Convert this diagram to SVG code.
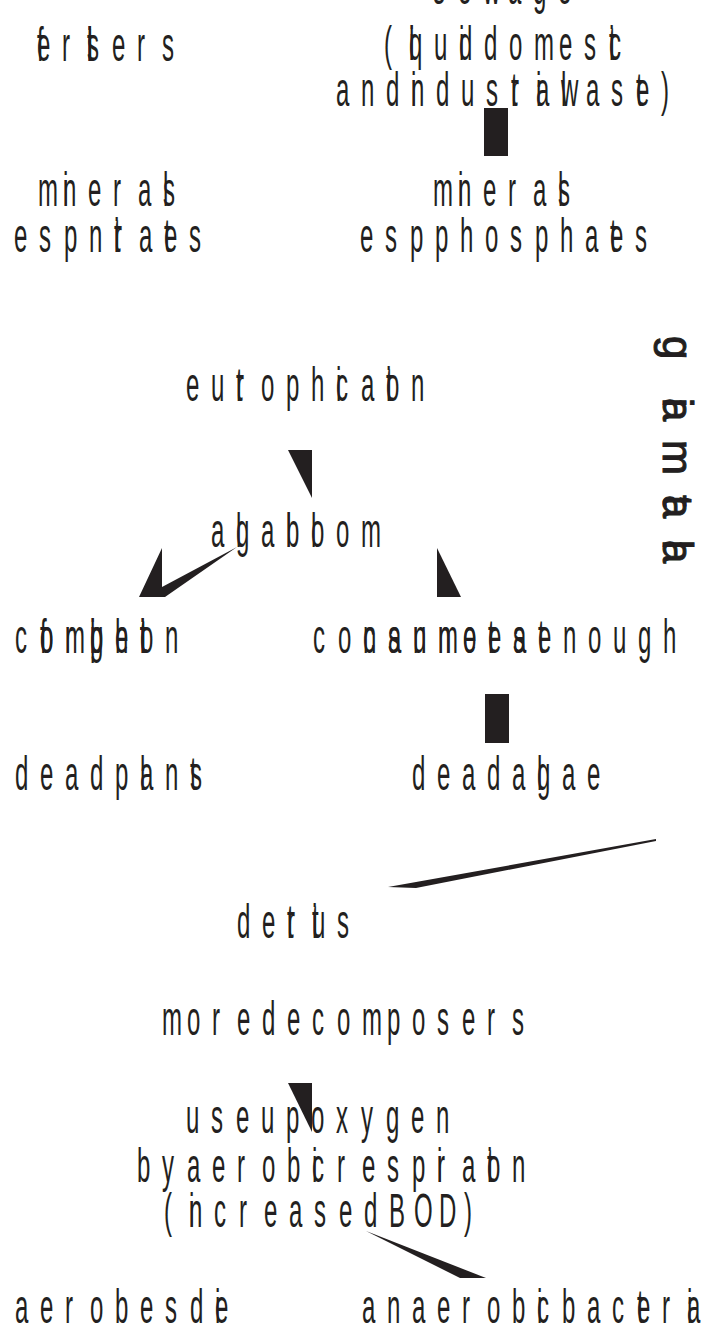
<svg xmlns="http://www.w3.org/2000/svg" width="704" height="1333" viewBox="0 0 704 1333">
<style>
.t{font-family:"Liberation Sans",Arial,sans-serif;font-size:48px;fill:#231f20}
.r{font-family:"Liberation Sans",Arial,sans-serif;font-size:42px;fill:#231f20;stroke:#231f20;stroke-width:1}
.k{fill:#231f20}
</style>
<rect width="704" height="1333" fill="#ffffff"/>
<g id="connectors">
<rect class="k" x="484" y="108" width="24" height="48"/>
<polygon class="k" points="288,450 312,450 312,498"/>
<path class="k" d="M162,548 L162,587 L237,547 L165,597 L139,597 Z"/>
<polygon class="k" points="437,548 437,597 461,597"/>
<rect class="k" x="485" y="694" width="24" height="49"/>
<polygon class="k" points="656,839 388,887 416,888 656,841"/>
<polygon class="k" points="288,1083 312,1083 312,1132"/>
<polygon class="k" points="366,1231 486,1278 460,1278"/>
</g>
<g id="sewage">
<text class="t" transform="matrix(0.5 0 0 1 433 4)" x="0 50 100 150 200 250">sewage</text>
<text class="t" transform="matrix(0.5 0 0 1 384 60)" x="0 50 50 50 100 150 150 200 200 250 300 350 400 450 450 450">(liquid domestic</text>
<text class="t" transform="matrix(0.5 0 0 1 336 106)" x="0 50 100 150 150 150 200 250 300 350 350 400 400 450 450 450 500 550 600 600 650">and industrial waste)</text>
</g>
<g id="fertilisers">
<text class="t" transform="matrix(0.5 0 0 1 37 61)" x="0 0 50 100 100 100 100 100 150 200 250">fertilisers</text>
</g>
<g id="nitrates">
<text class="t" transform="matrix(0.5 0 0 1 38 206)" x="0 50 50 100 150 200 250 250">minerals</text>
<text class="t" transform="matrix(0.5 0 0 1 14 252)" x="0 50 100 150 150 200 200 200 250 300 300 350">esp nitrates</text>
</g>
<g id="phosphates">
<text class="t" transform="matrix(0.5 0 0 1 433 206)" x="0 50 50 100 150 200 250 250">minerals</text>
<text class="t" transform="matrix(0.5 0 0 1 360 252)" x="0 50 100 150 150 200 250 300 350 400 450 500 500 550">esp phosphates</text>
</g>
<g id="eutrophication">
<text class="t" transform="matrix(0.5 0 0 1 186 401)" x="0 50 100 100 150 200 250 300 300 350 400 400 400 450">eutrophication</text>
</g>
<g id="algal-bloom">
<text class="t" transform="matrix(0.5 0 0 1 211 547)" x="0 50 50 100 150 150 150 200 200 250 300">algal bloom</text>
</g>
<g id="competition">
<text class="t" transform="matrix(0.5 0 0 1 15 653)" x="0 50 100 150 200 250 250 250 250 250 300">competition</text>
<text class="t" transform="matrix(0.5 0 0 1 40 653)" x="0 0 50 100 100 100 100 150 200">for light</text>
</g>
<g id="consumers">
<text class="t" transform="matrix(0.5 0 0 1 313 653)" x="0 50 100 150 200 250 300 350 400">consumers</text>
<text class="t" transform="matrix(0.5 0 0 1 363 653)" x="0 50 100 150 200 250 250 250 300 350 350 350 400 450 500 550 600">cannot eat enough</text>
</g>
<g id="dead-plants">
<text class="t" transform="matrix(0.5 0 0 1 15 790)" x="0 50 100 150 200 200 250 250 300 350 350">dead plants</text>
</g>
<g id="dead-algae">
<text class="t" transform="matrix(0.5 0 0 1 412 790)" x="0 50 100 150 200 200 250 250 300 350">dead algae</text>
</g>
<g id="detritus">
<text class="t" transform="matrix(0.5 0 0 1 237 938)" x="0 50 100 100 150 150 150 200">detritus</text>
</g>
<g id="decomposers">
<text class="t" transform="matrix(0.5 0 0 1 162 1035)" x="0 50 100 150 200 200 250 300 350 400 450 500 550 600 650 700">more decomposers</text>
</g>
<g id="oxygen">
<text class="t" transform="matrix(0.5 0 0 1 186 1133)" x="0 50 100 150 150 200 250 250 300 350 400 450 500">use up oxygen</text>
<text class="t" transform="matrix(0.5 0 0 1 137 1182)" x="0 50 100 100 150 200 250 300 350 350 400 400 450 500 550 600 600 650 700 700 700 750">by aerobic respiration</text>
<text class="t" transform="matrix(0.5 0 0 1 164 1227)" x="0 50 50 100 150 200 250 300 350 400 450 450 500 550 600">(increased BOD)</text>
</g>
<g id="aerobes">
<text class="t" transform="matrix(0.5 0 0 1 15 1323)" x="0 50 100 150 200 250 300 350 350 400 400">aerobes die</text>
</g>
<g id="anaerobes">
<text class="t" transform="matrix(0.5 0 0 1 362 1323)" x="0 50 100 150 200 250 300 350 350 400 400 450 500 550 550 600 650 650">anaerobic bacteria</text>
</g>
<g id="side-label">
<text class="r" transform="translate(663 350) rotate(90)" x="-14 48 48 90 145 145 190 190">giamtala</text>
</g>
</svg>
